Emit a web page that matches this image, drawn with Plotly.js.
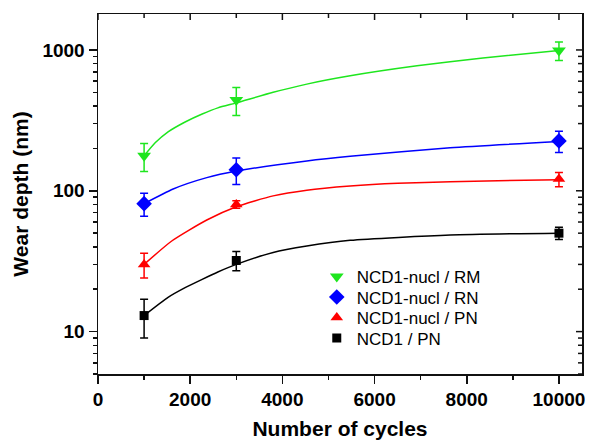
<!DOCTYPE html>
<html>
<head>
<meta charset="utf-8">
<script src="https://cdn.plot.ly/plotly-3.0.1.min.js"></script>
<style>html,body{margin:0;padding:0;background:#fff;}#chart{width:590px;height:440px;}</style>
</head>
<body>
<div id="chart"></div>
<script>
// Measured points
const cycles = [1000, 3000, 10000];
const rmDepth = [177, 442, 990];
const rmErr = [40, 100, 150];
const rnDepth = [81, 141, 226];
const rnErr = [15, 30, 39];
const pnDepth = [30, 80, 121];
const pnErr = [6, 5, 14];
const ncdDepth = [13, 32, 50];
const ncdErr = [4, 5, 5];

// Fit curves
const rmFitX = [1000, 1240, 1520, 1890, 2260, 2600, 3000, 3800, 4530, 5470, 6920, 8350, 10000];
const rmFitY = [177, 219, 262, 308, 351, 388, 421, 500, 572, 655, 771, 877, 990];
const rnFitX = [1000, 1630, 2360, 3000, 4530, 5470, 7640, 10000];
const rnFitY = [81, 103, 124, 138, 163, 176, 202, 224];
const pnFitX = [1000, 1600, 2360, 3000, 3800, 4530, 5470, 6500, 7640, 10000];
const pnFitY = [30, 44, 62, 77, 92, 101, 108, 113, 116, 120];
const ncdFitX = [1000, 1520, 1890, 2260, 2600, 3000, 3800, 4530, 5470, 7640, 10000];
const ncdFitY = [13, 17.5, 20.5, 23.5, 26.5, 30, 36.5, 40.5, 44.5, 48.5, 50];

const seriesNames = ['NCD1-nucl / RM', 'NCD1-nucl / RN', 'NCD1-nucl / PN', 'NCD1 / PN'];
const xTicks = [0, 2000, 4000, 6000, 8000, 10000];
const xTickText = ['0', '2000', '4000', '6000', '8000', '10000'];
const xMinor = [1000, 3000, 5000, 7000, 9000];
const yTicks = [10, 100, 1000];
const yTickText = ['10', '100', '1000'];
const yMinor = [5, 6, 7, 8, 9, 20, 30, 40, 50, 60, 70, 80, 90, 200, 300, 400, 500, 600, 700, 800, 900];

const colors = ['#1ee61e', '#0000ff', '#ff0000', '#000000'];
const symbols = ['triangle-down', 'diamond', 'triangle-up', 'square'];
const sizes = [12, 12, 11, 9];
const ptsY = [rmDepth, rnDepth, pnDepth, ncdDepth];
const errs = [rmErr, rnErr, pnErr, ncdErr];
const fitX = [rmFitX, rnFitX, pnFitX, ncdFitX];
const fitY = [rmFitY, rnFitY, pnFitY, ncdFitY];
const legendIds = ['legend', 'legend2', 'legend3', 'legend4'];
const legendRowY = [0.2694, 0.2125, 0.1556, 0.0986];

const traces = [];
for (let i = 0; i < 4; i++) {
  traces.push({
    x: fitX[i], y: fitY[i], mode: 'lines', type: 'scatter',
    line: {color: colors[i], width: 1.5, shape: 'spline', smoothing: 0.6},
    showlegend: false, hoverinfo: 'skip'
  });
}
for (let i = 0; i < 4; i++) {
  traces.push({
    x: cycles, y: ptsY[i], mode: 'markers', type: 'scatter', name: seriesNames[i],
    legend: legendIds[i],
    marker: {color: colors[i], symbol: symbols[i], size: sizes[i]},
    error_y: {type: 'data', array: errs[i], visible: true, color: colors[i], thickness: 1.5, width: 4}
  });
}

const font = 'Arial, "Liberation Sans", sans-serif';
const axLine = '#111';
const xRange = [0, 10500];
const yRange = [Math.log10(5), Math.log10(1800)];
const margin = {l: 98, r: 8, t: 14, b: 66};
const plotW = 590 - margin.l - margin.r;
const plotH = 440 - margin.t - margin.b;

// inside ticks on the top and right frame edges (mirrors of the axis ticks)
const shapes = [];
function topTick(v, len) {
  shapes.push({type: 'line', xref: 'x', yref: 'paper', x0: v, x1: v, y0: 1, y1: 1 - len / plotH,
    line: {color: axLine, width: 1.5}, layer: 'above'});
}
function rightTick(v, len) {
  const f = (Math.log10(v) - yRange[0]) / (yRange[1] - yRange[0]);
  shapes.push({type: 'line', xref: 'paper', yref: 'paper', x0: 1, x1: 1 - len / plotW, y0: f, y1: f,
    line: {color: axLine, width: 1.5}, layer: 'above'});
}
xTicks.forEach(v => topTick(v, 6));
xMinor.forEach(v => topTick(v, 4));
yTicks.forEach(v => rightTick(v, 6));
yMinor.forEach(v => rightTick(v, 4));

const layout = {
  width: 590, height: 440,
  margin: margin,
  paper_bgcolor: '#fff', plot_bgcolor: '#fff',
  font: {family: font, color: '#000'},
  showlegend: true,
  shapes: shapes,
  xaxis: {
    range: xRange, tickmode: 'array', tickvals: xTicks, ticktext: xTickText,
    ticks: 'outside', ticklen: 8, tickwidth: 1.5, tickcolor: axLine,
    minor: {tickmode: 'array', tickvals: xMinor, ticks: 'outside', ticklen: 4, tickwidth: 1.5, tickcolor: axLine},
    showline: true, linecolor: axLine, linewidth: 1.5, mirror: true,
    showgrid: false, zeroline: false,
    tickfont: {family: font, size: 19, weight: 'bold', color: '#000'},
    title: {text: 'Number of cycles', font: {family: font, size: 21, weight: 'bold', color: '#000'}, standoff: 14}
  },
  yaxis: {
    type: 'log', range: yRange, tickmode: 'array', tickvals: yTicks, ticktext: yTickText,
    ticks: 'outside', ticklen: 8, tickwidth: 1.5, tickcolor: axLine,
    minor: {tickmode: 'array', tickvals: yMinor, ticks: 'outside', ticklen: 4, tickwidth: 1.5, tickcolor: axLine},
    showline: true, linecolor: axLine, linewidth: 1.5, mirror: true,
    showgrid: false, zeroline: false,
    tickfont: {family: font, size: 19, weight: 'bold', color: '#000'},
    title: {text: 'Wear depth (nm)', font: {family: font, size: 21, weight: 'bold', color: '#000'}, standoff: 8}
  }
};
for (let i = 0; i < 4; i++) {
  layout[legendIds[i]] = {
    x: 0.452, xanchor: 'left', y: legendRowY[i], yanchor: 'middle',
    bgcolor: 'rgba(0,0,0,0)', borderwidth: 0,
    font: {family: font, size: 17, color: '#000'}, itemwidth: 30
  };
}

Plotly.newPlot('chart', traces, layout, {displayModeBar: false, staticPlot: true});
</script>
</body>
</html>
